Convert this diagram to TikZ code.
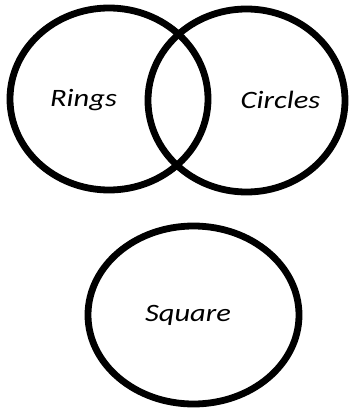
\documentclass[tikz,border=0pt]{standalone}
\usepackage{fontspec}
\setmainfont{Carlito}
\usetikzlibrary{shapes.geometric}
\begin{document}
\begin{tikzpicture}[x=1pt,y=-1pt,
  ring/.style={draw=black,line width=6.8pt,ellipse,inner sep=0pt},
  lbl/.style={font=\fontsize{25}{30}\selectfont\itshape,inner sep=0pt}]
\useasboundingbox (0,0) rectangle (353,409);
\node[ring,minimum width=198pt,minimum height=182pt] (rings) at (109,99) {};
\node[ring,minimum width=197pt,minimum height=183pt] (circles) at (246.5,100.5) {};
\node[ring,minimum width=211pt,minimum height=178pt] (square) at (193.5,315) {};
\node[lbl] (tr) at (83.5,100) {\scalebox{1.22}[1]{Rings}};
\node[lbl] (tc) at (280.5,100) {\scalebox{1.22}[1]{Circles}};
\node[lbl] (ts) at (188,315) {\scalebox{1.22}[1]{Square}};
\end{tikzpicture}
\end{document}
